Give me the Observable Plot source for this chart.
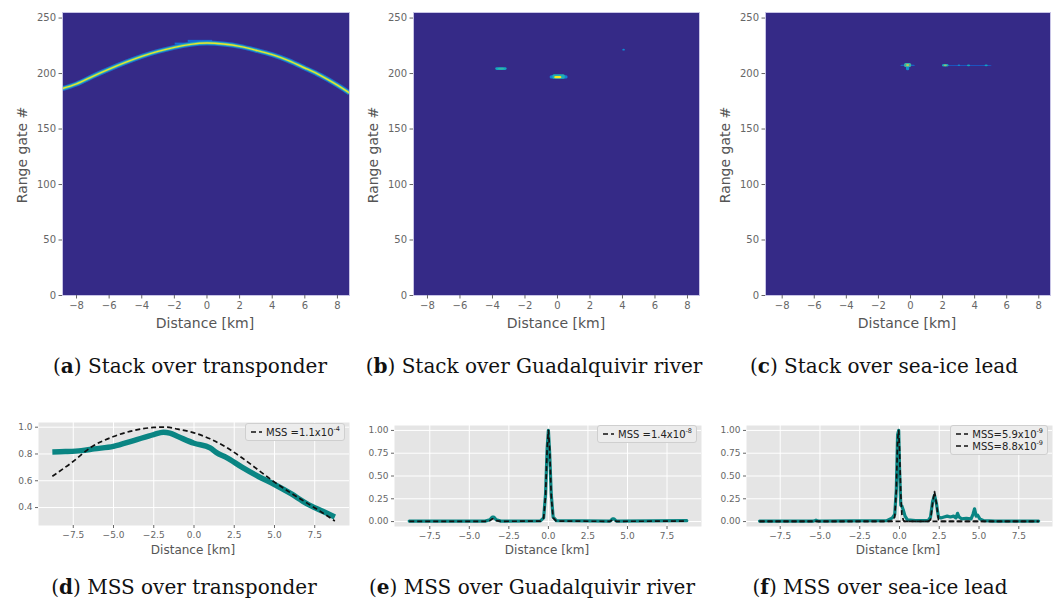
<!DOCTYPE html>
<html><head><meta charset="utf-8">
<script src="https://cdn.jsdelivr.net/npm/d3@7"></script>
<script src="https://cdn.jsdelivr.net/npm/@observablehq/plot@0.6"></script>
<style>
body{margin:0;background:#fff;}
#fig{position:relative;width:1057px;height:605px;overflow:hidden;font-family:"DejaVu Sans",sans-serif;background:#fff;}
.panel{position:absolute;}
.cap{position:absolute;font-family:"DejaVu Serif",serif;font-size:20px;line-height:1;color:#111;white-space:nowrap;transform:translate(-50%,-50%);}
.xl{position:absolute;font-size:14px;line-height:1;color:#555;transform:translate(-50%,-50%);white-space:nowrap}
.xs{font-size:12px}
.yl{position:absolute;font-size:14px;line-height:1;color:#555;transform:translate(-50%,-50%) rotate(-90deg);white-space:nowrap}
.leg{position:absolute;background:rgba(236,236,236,0.95);border:1px solid #cfcfcf;border-radius:3px;font-size:10px;color:#222;box-sizing:border-box;padding:2px 4px;}
.leg .row{display:flex;align-items:center;height:12px;white-space:nowrap}
.leg svg{margin-right:4px}
.leg sup{font-size:6.5px;vertical-align:5px;line-height:0}
</style></head>
<body>
<div id="fig"></div>
<script>
// ---------------- data ----------------
const kmTicks = [-8, -6, -4, -2, 0, 2, 4, 6, 8];
const gateTicks = [0, 50, 100, 150, 200, 250];
const mssTicksX = [-7.5, -5, -2.5, 0, 2.5, 5, 7.5];
const mssTicksYd = [0.4, 0.6, 0.8, 1.0];
const mssTicksYef = [0, 0.25, 0.5, 0.75, 1.0];

// (a) transponder hyperbola in the stack
const curveA_km   = [-8.86, -8, -7, -6, -5, -4, -3, -2, -1, 0, 1, 2, 3, 4, 5, 6, 7, 8, 8.74];
const curveA_gate = [186.5, 190.6, 197.5, 204, 210, 215.5, 220, 223.6, 226.3, 227.5, 226.6, 224.5, 221, 217, 211.6, 205, 198, 189.5, 182.5];
// splash near the apex: [km, gate, half-width km, half-height gates, intensity]
const haloA_km = [-1.5, -0.4, 0.9];
const haloA_gate = [226.5, 228.8, 227.0];
const haloA_dkm = [0.45, 0.75, 0.4];
const haloA_dgate = [0.9, 1.1, 0.9];
const haloA_val = [0.2, 0.18, 0.2];

// (b) Guadalquivir echoes
const spotsB_km    = [-3.45, -3.45, 0.1, 0.1, 0.05, 4.1];
const spotsB_gate  = [204, 204, 196.5, 196.8, 196.3, 221];
const spotsB_dkm   = [0.35, 0.2, 0.55, 0.38, 0.22, 0.08];
const spotsB_dgate = [1.2, 0.7, 1.4, 2.0, 1.0, 0.8];
const spotsB_val   = [0.4, 0.5, 0.25, 0.45, 0.95, 0.28];

// (c) sea-ice lead echoes
const spotsC_km    = [-0.15, -0.15, 3.6, -0.15, -0.15, 2.2, 2.2, 3.05, 3.65, 4.75];
const spotsC_gate  = [207, 205.5, 207, 207.2, 207.2, 207, 207, 207, 207, 207];
const spotsC_dkm   = [0.45, 0.1, 1.5, 0.22, 0.1, 0.2, 0.1, 0.08, 0.1, 0.1];
const spotsC_dgate = [0.5, 3.0, 0.35, 1.8, 1.0, 1.2, 0.8, 0.6, 0.8, 0.8];
const spotsC_val   = [0.2, 0.3, 0.15, 0.5, 0.72, 0.42, 0.65, 0.3, 0.4, 0.38];

// (d) MSS over transponder
const distD  = [-8.8, -8, -7, -6.2, -5, -3.75, -2.5, -1.9, -1.5, -1, 0, 1, 1.4, 2, 3, 4, 5, 6, 7, 8, 8.75];
const stackD = [0.815, 0.818, 0.825, 0.838, 0.857, 0.9, 0.945, 0.962, 0.955, 0.93, 0.88, 0.845, 0.81, 0.775, 0.70, 0.632, 0.572, 0.505, 0.43, 0.372, 0.33];
const distDm  = [-8.8, -7.57, -6.4, -5, -3.75, -2.5, -2, -1.67, -1, 0, 1, 2, 3, 4, 5, 6, 7, 8, 8.75];
const modelD = [0.634, 0.738, 0.85, 0.93, 0.975, 0.998, 1.0, 1.0, 0.985, 0.958, 0.913, 0.85, 0.77, 0.68, 0.59, 0.51, 0.435, 0.36, 0.30];

// (e) MSS over Guadalquivir river
const distE  = [-8.8, -4.0, -3.7, -3.55, -3.45, -3.3, -3.0, -0.5, -0.3, -0.18, -0.08, 0, 0.08, 0.18, 0.3, 0.5, 3.9, 4.05, 4.15, 4.3, 8.75];
const stackE = [0.005, 0.005, 0.02, 0.05, 0.05, 0.02, 0.005, 0.008, 0.04, 0.3, 0.8, 1.0, 0.75, 0.3, 0.05, 0.01, 0.005, 0.03, 0.03, 0.005, 0.01];
const modelE = [0.003, 0.003, 0.01, 0.03, 0.03, 0.01, 0.003, 0.005, 0.04, 0.28, 0.8, 1.0, 0.8, 0.28, 0.04, 0.005, 0.003, 0.015, 0.015, 0.003, 0.005];

// (f) MSS over sea-ice lead
const distF  = [-8.8, -5.4, -5.25, -5.1, -0.8, -0.45, -0.3, -0.2, -0.12, -0.05, 0.0, 0.08, 0.15, 0.25, 0.35, 0.5, 1.0, 1.8, 1.95, 2.08, 2.2, 2.32, 2.45, 2.6, 2.8, 3.0, 3.2, 3.4, 3.55, 3.65, 3.75, 3.9, 4.2, 4.5, 4.62, 4.72, 4.82, 4.92, 5.05, 5.3, 6.0, 8.75];
const stackF = [0.005, 0.005, 0.015, 0.005, 0.01, 0.04, 0.08, 0.35, 0.95, 1.0, 0.6, 0.18, 0.17, 0.12, 0.06, 0.02, 0.01, 0.01, 0.05, 0.22, 0.29, 0.2, 0.05, 0.04, 0.05, 0.06, 0.05, 0.06, 0.04, 0.09, 0.05, 0.03, 0.035, 0.03, 0.08, 0.14, 0.06, 0.07, 0.03, 0.01, 0.005, 0.005];
const modelF1 = [0.002, 0.002, 0.002, 0.002, 0.002, 0.005, 0.05, 0.35, 0.9, 1.0, 0.8, 0.3, 0.08, 0.01, 0.002, 0.002, 0.002, 0.002, 0.002, 0.002, 0.002, 0.002, 0.002, 0.002, 0.002, 0.002, 0.002, 0.002, 0.002, 0.002, 0.002, 0.002, 0.002, 0.002, 0.002, 0.002, 0.002, 0.002, 0.002, 0.002, 0.002, 0.002];
const modelF2 = [0.002, 0.002, 0.002, 0.002, 0.002, 0.002, 0.002, 0.002, 0.002, 0.002, 0.002, 0.002, 0.002, 0.002, 0.002, 0.002, 0.002, 0.002, 0.02, 0.2, 0.33, 0.2, 0.02, 0.002, 0.002, 0.002, 0.002, 0.002, 0.002, 0.002, 0.002, 0.002, 0.002, 0.002, 0.002, 0.002, 0.002, 0.002, 0.002, 0.002, 0.002, 0.002];

// ---------------- drawing ----------------
const parula = ["#352a87", "#0f5cdd", "#1481d6", "#06a4ca", "#2eb7a4", "#87bf77", "#d1bb59", "#fec832", "#f9fb0e"];
const fig = document.getElementById("fig");
const fmtInt = d3.format("");

function place(node, left, top) {
  const d = document.createElement("div");
  d.className = "panel";
  d.style.left = left + "px"; d.style.top = top + "px";
  d.appendChild(node); fig.appendChild(d);
}
function addText(cls, html, x, y) {
  const d = document.createElement("div");
  d.className = cls; d.innerHTML = html;
  d.style.left = x + "px"; d.style.top = y + "px";
  fig.appendChild(d);
}
function spotMarks(km, gate, dkm, dgate, val) {
  const idx = d3.range(km.length);
  return Plot.rect(idx, {
    x1: i => km[i] - dkm[i], x2: i => km[i] + dkm[i],
    y1: i => gate[i] - dgate[i], y2: i => gate[i] + dgate[i],
    fill: i => val[i], rx: 1.5
  });
}
function heat(w, ml, mr, xd, marks) {
  return Plot.plot({
    width: w, height: 330, marginLeft: ml, marginRight: mr, marginTop: 12, marginBottom: 35,
    style: {fontFamily: "DejaVu Sans", fontSize: "10px", color: "#666", background: "transparent", overflow: "visible"},
    x: {domain: xd},
    y: {domain: [0, 255]},
    color: {type: "linear", domain: [0, 1], interpolate: d3.interpolateRgbBasis(parula)},
    marks: [
      Plot.frame({fill: parula[0]}),
      ...marks,
      Plot.frame({stroke: "#c8c4e6"}),
      Plot.axisX(kmTicks, {tickFormat: fmtInt, tickSize: 3.5, tickPadding: 3, label: null}),
      Plot.axisY(gateTicks, {tickFormat: fmtInt, tickSize: 3.5, tickPadding: 3, label: null})
    ]
  });
}
function mss(w, ml, mr, mt, bottom, xd, yd, yt, yf, marks) {
  return Plot.plot({
    width: w, height: 140, marginLeft: ml, marginRight: mr, marginTop: mt, marginBottom: 140 - bottom,
    style: {fontFamily: "DejaVu Sans", fontSize: "9px", color: "#666", background: "transparent", overflow: "visible"},
    x: {domain: xd},
    y: {domain: yd},
    marks: [
      Plot.frame({fill: "#e5e5e5"}),
      Plot.gridX(mssTicksX, {stroke: "#fff", strokeOpacity: 1, strokeWidth: 1}),
      Plot.gridY(yt, {stroke: "#fff", strokeOpacity: 1, strokeWidth: 1}),
      ...marks,
      Plot.axisX(mssTicksX, {tickFormat: d3.format(".1f"), tickSize: 3, tickPadding: 3, label: null}),
      Plot.axisY(yt, {tickFormat: d3.format(yf), tickSize: 3, tickPadding: 3, label: null})
    ]
  });
}
const teal = "#0a8583";
const dash = {stroke: "#111", strokeWidth: 1.7, strokeDasharray: "5,3", strokeLinecap: "butt"};
const ln = {curve: "natural", strokeLinecap: "butt", clip: true};

// (a)
place(heat(355, 62, 6, [-8.86, 8.74], [
  Plot.rect(d3.range(haloA_km.length), {
    x1: i => haloA_km[i] - haloA_dkm[i], x2: i => haloA_km[i] + haloA_dkm[i],
    y1: i => haloA_gate[i] - haloA_dgate[i], y2: i => haloA_gate[i] + haloA_dgate[i],
    fill: i => haloA_val[i]
  }),
  Plot.line(curveA_km, {x: curveA_km, y: curveA_gate, ...ln, stroke: "#1878d8", strokeWidth: 5, strokeOpacity: 0.85}),
  Plot.line(curveA_km, {x: curveA_km, y: curveA_gate, ...ln, stroke: "#33bcae", strokeWidth: 3}),
  Plot.line(curveA_km, {x: curveA_km, y: curveA_gate, ...ln, stroke: "#ece22a", strokeWidth: 1.4})
]), 0, 0);
// (b)
place(heat(355, 63, 6, [-8.86, 8.74], [spotMarks(spotsB_km, spotsB_gate, spotsB_dkm, spotsB_dgate, spotsB_val)]), 350, 0);
// (c)
place(heat(357, 65, 7, [-9.04, 8.73], [spotMarks(spotsC_km, spotsC_gate, spotsC_dkm, spotsC_dgate, spotsC_val)]), 700, 0);

// (d)
place(mss(355, 38, 6, 12, 115, [-9.66, 9.66], [0.266, 1.035], mssTicksYd, ".1f", [
  Plot.line(distD, {x: distD, y: stackD, stroke: teal, strokeWidth: 5.5, curve: "monotone-x", strokeLinecap: "butt"}),
  Plot.line(distDm, {x: distDm, y: modelD, ...dash, curve: "monotone-x"})
]), 0, 410);
// (e)
place(mss(350, 39, 4, 15, 116, [-9.73, 9.68], [-0.054, 1.054], mssTicksYef, ".2f", [
  Plot.line(distE, {x: distE, y: stackE, stroke: teal, strokeWidth: 3.2}),
  Plot.line(distE, {x: distE, y: modelE, ...dash})
]), 355, 410);
// (f)
place(mss(352, 41, 5, 15, 116, [-9.62, 9.62], [-0.054, 1.054], mssTicksYef, ".2f", [
  Plot.line(distF, {x: distF, y: stackF, stroke: teal, strokeWidth: 3.2}),
  Plot.line(distF, {x: distF, y: modelF1, ...dash}),
  Plot.line(distF, {x: distF, y: modelF2, ...dash})
]), 705, 410);

// axis labels
addText("yl", "Range gate #", 22, 155);
addText("yl", "Range gate #", 373, 155);
addText("yl", "Range gate #", 725, 155);
addText("xl", "Distance [km]", 205, 323);
addText("xl", "Distance [km]", 556, 323);
addText("xl", "Distance [km]", 907, 323);
addText("xl xs", "Distance [km]", 193, 550);
addText("xl xs", "Distance [km]", 547, 550);
addText("xl xs", "Distance [km]", 898, 550);

// legends
function legend(x, y, w, labels) {
  const d = document.createElement("div");
  d.className = "leg";
  d.style.left = x + "px"; d.style.top = y + "px"; d.style.width = w + "px";
  d.innerHTML = labels.map(t => `<div class="row"><svg width="24" height="6"><line x1="1" y1="3" x2="23" y2="3" stroke="#111" stroke-width="1.6" stroke-dasharray="5,3"/></svg><span>${t}</span></div>`).join("");
  fig.appendChild(d);
}
legend(245, 423, 100, ["MSS =1.1x10<sup>-4</sup>"]);
legend(597, 425, 100, ["MSS =1.4x10<sup>-8</sup>"]);
legend(950, 425, 98, ["MSS=5.9x10<sup>-9</sup>", "MSS=8.8x10<sup>-9</sup>"]);

// captions
addText("cap", "(<b>a</b>) Stack over transponder", 190, 366);
addText("cap", "(<b>b</b>) Stack over Guadalquivir river", 534, 366);
addText("cap", "(<b>c</b>) Stack over sea-ice lead", 884, 366);
addText("cap", "(<b>d</b>) MSS over transponder", 184, 587);
addText("cap", "(<b>e</b>) MSS over Guadalquivir river", 532, 587);
addText("cap", "(<b>f</b>) MSS over sea-ice lead", 880, 587);
</script>
</body></html>
